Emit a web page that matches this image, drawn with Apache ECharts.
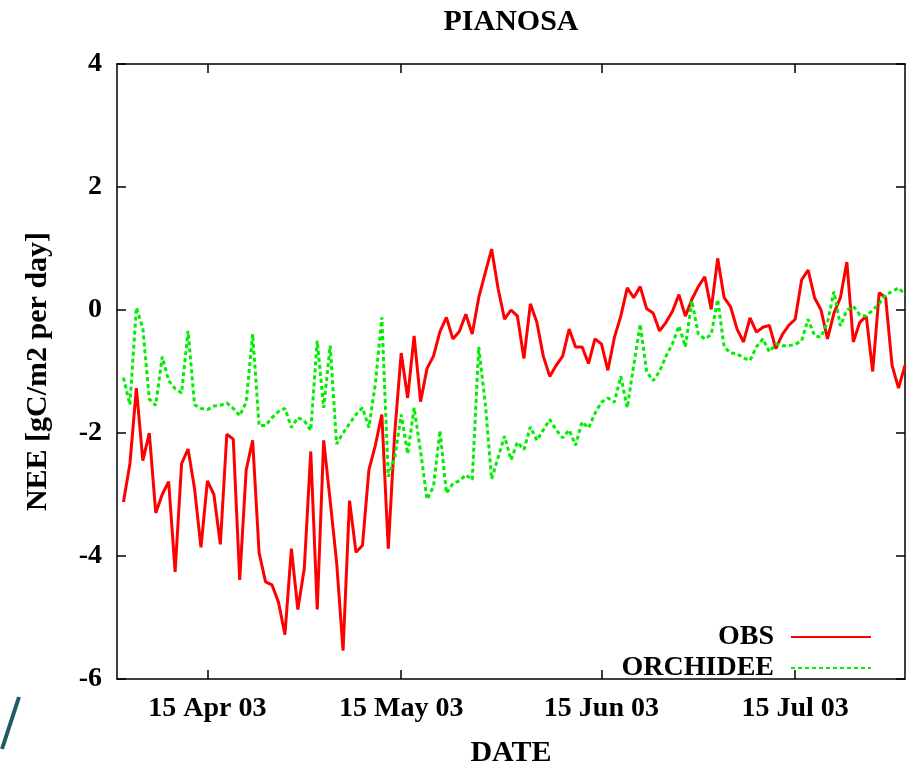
<!DOCTYPE html>
<html>
<head>
<meta charset="utf-8">
<title>PIANOSA NEE</title>
<script src="https://cdn.jsdelivr.net/npm/echarts@6/dist/echarts.min.js"></script>
<style>
  html, body { margin: 0; padding: 0; background: #ffffff; overflow: hidden; }
  #chart { width: 909px; height: 773px; }
</style>
</head>
<body>
<div id="chart"></div>
<script>
// Daily NEE at Pianosa, 2 Apr 2003 .. 1 Aug 2003 (gC/m2 per day)
const firstDay = [2003, 3, 2]; // year, month index, day of the first sample

const obs = [
  -3.12, -2.5, -1.27, -2.45, -2.0, -3.3, -3.0, -2.79, -4.26, -2.5,
  -2.26, -2.9, -3.86, -2.78, -3.0, -3.81, -2.02, -2.1, -4.39, -2.6,
  -2.12, -3.95, -4.42, -4.47, -4.75, -5.28, -3.88, -4.87, -4.2, -2.3,
  -4.87, -2.12, -3.1, -4.1, -5.54, -3.1, -3.94, -3.83, -2.6, -2.2,
  -1.7, -3.88, -2.0, -0.7, -1.43, -0.42, -1.49, -0.95, -0.75, -0.35,
  -0.12, -0.47, -0.35, -0.07, -0.39, 0.2, 0.6, 0.99, 0.35, -0.15,
  0.0, -0.1, -0.79, 0.1, -0.2, -0.75, -1.08, -0.9, -0.75, -0.31,
  -0.6, -0.6, -0.87, -0.47, -0.55, -0.98, -0.45, -0.1, 0.36, 0.2,
  0.38, 0.02, -0.05, -0.34, -0.2, -0.02, 0.25, -0.1, 0.17, 0.38,
  0.54, 0.01, 0.84, 0.2, 0.05, -0.31, -0.52, -0.13, -0.36, -0.28,
  -0.25, -0.63, -0.4, -0.25, -0.15, 0.49, 0.65, 0.2, 0.0, -0.47,
  -0.05, 0.2, 0.78, -0.52, -0.2, -0.1, -1.0, 0.28, 0.2, -0.9,
  -1.27, -0.9
];

const orchidee = [
  -1.1, -1.54, 0.04, -0.3, -1.45, -1.55, -0.76, -1.15, -1.28, -1.35,
  -0.34, -1.54, -1.6, -1.62, -1.56, -1.55, -1.51, -1.6, -1.72, -1.5,
  -0.39, -1.88, -1.88, -1.75, -1.65, -1.6, -1.91, -1.75, -1.8, -1.96,
  -0.5, -1.59, -0.58, -2.18, -2.0, -1.85, -1.7, -1.59, -1.91, -1.2,
  -0.12, -2.71, -2.4, -1.7, -2.34, -1.59, -2.3, -3.08, -2.87, -1.96,
  -2.98, -2.82, -2.78, -2.68, -2.76, -0.6, -1.5, -2.75, -2.4, -2.05,
  -2.44, -2.15, -2.27, -1.9, -2.12, -1.95, -1.78, -1.95, -2.08, -1.95,
  -2.2, -1.82, -1.92, -1.68, -1.5, -1.43, -1.5, -1.08, -1.59, -0.9,
  -0.23, -1.0, -1.15, -1.0, -0.75, -0.55, -0.26, -0.6, 0.15, -0.39,
  -0.47, -0.4, 0.17, -0.6, -0.7, -0.71, -0.78, -0.82, -0.6, -0.47,
  -0.68, -0.55, -0.58, -0.58, -0.56, -0.5, -0.15, -0.42, -0.44, -0.2,
  0.3, -0.26, 0.0, 0.06, -0.08, -0.1, 0.0, 0.1, 0.25, 0.3,
  0.36, 0.25
];

const tickDates = [[2003, 3, 15], [2003, 4, 15], [2003, 5, 15], [2003, 6, 15]];
const tickLabels = ['15 Apr 03', '15 May 03', '15 Jun 03', '15 Jul 03'];
const xRange = [[2003, 3, 1], [2003, 7, 1]];
const yRange = { min: -6, max: 4, step: 2 };

// Dates are kept as millisecond timestamps on a numeric axis
const ts = (d) => new Date(d[0], d[1], d[2]).getTime();
const dayStamp = (i) => new Date(firstDay[0], firstDay[1], firstDay[2] + i).getTime();
const tickValues = tickDates.map(ts);

const W = 909, H = 773;
const FONT = '"Liberation Serif", "Times New Roman", serif';
const bold = (size) => ({ fontFamily: FONT, fontWeight: 'bold', fontSize: size, color: '#000' });

const chart = echarts.init(document.getElementById('chart'), null, { renderer: 'canvas', width: W, height: H });

const tickCommon = { show: true, inside: true, length: 9, lineStyle: { color: '#000', width: 1.5 } };
const lineCommon = { show: true, onZero: false, lineStyle: { color: '#000', width: 1.5 } };

function legendFor(name, top) {
  return {
    data: [name],
    orient: 'vertical',
    align: 'right',
    right: 37,
    top: top,
    padding: 0,
    itemWidth: 80,
    itemHeight: 14,
    textStyle: Object.assign(bold(28), { padding: [0, 12, 0, 0] }),
    lineStyle: { width: 2 },
    itemStyle: { opacity: 0 },
    selectedMode: false
  };
}

chart.setOption({
  backgroundColor: '#ffffff',
  animation: false,
  title: {
    text: 'PIANOSA',
    left: 511,
    top: 7,
    padding: 0,
    textAlign: 'center',
    textStyle: bold(30)
  },
  grid: { left: 117, right: 4, top: 64, bottom: 84, containLabel: false },
  legend: [legendFor('OBS', 623), legendFor('ORCHIDEE', 654)],
  xAxis: [
    {
      type: 'value',
      min: ts(xRange[0]),
      max: ts(xRange[1]),
      name: 'DATE',
      nameLocation: 'middle',
      nameGap: 59,
      nameTextStyle: bold(30),
      axisLine: lineCommon,
      axisTick: Object.assign({ customValues: tickValues }, tickCommon),
      axisLabel: Object.assign({
        customValues: tickValues,
        margin: 16,
        hideOverlap: false,
        formatter: (v) => {
          const k = tickValues.indexOf(v);
          return k >= 0 ? tickLabels[k] : '';
        }
      }, bold(28)),
      splitLine: { show: false }
    },
    {
      type: 'value',
      position: 'top',
      min: ts(xRange[0]),
      max: ts(xRange[1]),
      axisLine: lineCommon,
      axisTick: Object.assign({ customValues: tickValues }, tickCommon),
      axisLabel: { show: false },
      splitLine: { show: false }
    }
  ],
  yAxis: [
    {
      type: 'value',
      min: yRange.min,
      max: yRange.max,
      interval: yRange.step,
      name: 'NEE [gC/m2 per day]',
      nameLocation: 'middle',
      nameGap: 64,
      nameRotate: 90,
      nameTextStyle: bold(30),
      axisLine: lineCommon,
      axisTick: tickCommon,
      axisLabel: Object.assign({ margin: 15 }, bold(28)),
      splitLine: { show: false }
    },
    {
      type: 'value',
      position: 'right',
      min: yRange.min,
      max: yRange.max,
      interval: yRange.step,
      axisLine: lineCommon,
      axisTick: tickCommon,
      axisLabel: { show: false },
      splitLine: { show: false }
    }
  ],
  series: [
    {
      name: 'OBS',
      type: 'line',
      xAxisIndex: 0,
      yAxisIndex: 0,
      showSymbol: false,
      symbol: 'none',
      color: '#ff0000',
      lineStyle: { color: '#ff0000', width: 3 },
      data: obs.map((v, i) => [dayStamp(i), v])
    },
    {
      name: 'ORCHIDEE',
      type: 'line',
      xAxisIndex: 0,
      yAxisIndex: 0,
      showSymbol: false,
      symbol: 'none',
      color: '#00ee00',
      lineStyle: { color: '#00ee00', width: 3, type: [4, 3] },
      data: orchidee.map((v, i) => [dayStamp(i), v])
    }
  ],
  graphic: [
    {
      type: 'line',
      shape: { x1: 2, y1: 749, x2: 19, y2: 697 },
      style: { stroke: '#1d5c64', lineWidth: 4 },
      silent: true
    }
  ]
});
</script>
</body>
</html>
